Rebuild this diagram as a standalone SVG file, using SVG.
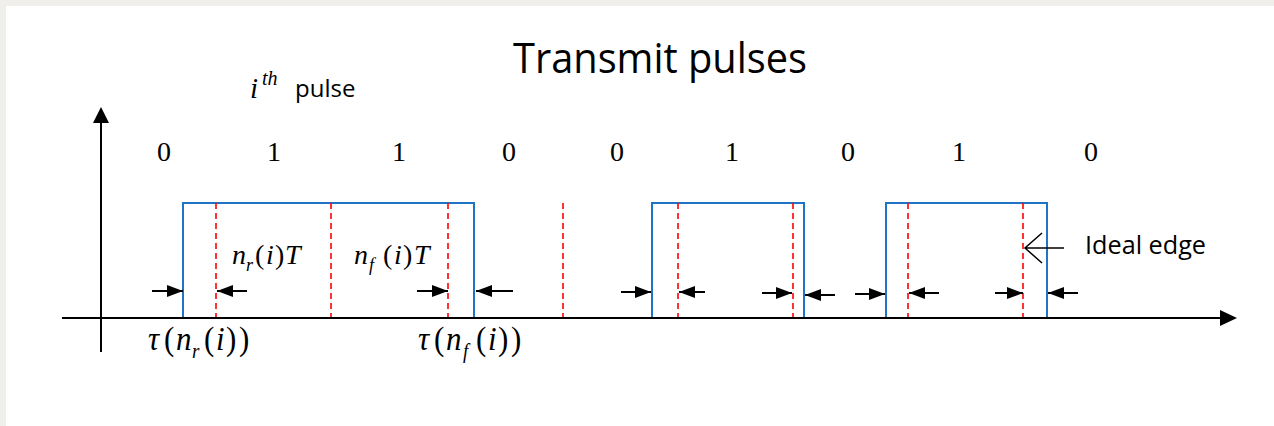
<svg xmlns="http://www.w3.org/2000/svg" width="1274" height="426" viewBox="0 0 1274 426">
<defs>
<style>
.sans{font-family:"Open Sans","Liberation Sans",sans-serif;fill:#000}
.ser{font-family:"Liberation Serif","Times New Roman",serif;fill:#000}
.it{font-style:italic}
.axis{stroke:#000;stroke-width:2;fill:none}
.pulse{stroke:#1f74c4;stroke-width:2;fill:none}
.ideal{stroke:#ff0000;stroke-width:1.6;stroke-dasharray:6 4;fill:none}
.arr{stroke:#000;stroke-width:2;fill:none;marker-end:url(#ah)}
</style>
<marker id="ah" viewBox="0 0 16 12" refX="16" refY="6" markerWidth="16" markerHeight="12" markerUnits="userSpaceOnUse" orient="auto">
<path d="M0,0 L16,6 L0,12 Z" fill="#000"/>
</marker>
</defs>
<rect x="0" y="0" width="1274" height="426" fill="#f0efeb"/>
<rect x="6" y="6" width="1268" height="420" fill="#ffffff"/>

<g id="title">
<text class="sans" x="513" y="73" font-size="42" textLength="294" lengthAdjust="spacingAndGlyphs">Transmit pulses</text>
</g>

<g id="ith-pulse">
<text class="ser it" x="250" y="98" font-size="29">i</text>
<text class="ser it" x="262" y="85" font-size="20">th</text>
<text class="sans" x="295" y="97" font-size="24">pulse</text>
</g>

<g id="bits" class="ser" font-size="28" text-anchor="middle">
<text x="164" y="161">0</text>
<text x="274" y="161">1</text>
<text x="399" y="161">1</text>
<text x="509" y="161">0</text>
<text x="617" y="161">0</text>
<text x="732" y="161">1</text>
<text x="848" y="161">0</text>
<text x="959" y="161">1</text>
<text x="1091" y="161">0</text>
</g>

<g id="pulses">
<path class="pulse" d="M183,318 V203 H474 V318"/>
<path class="pulse" d="M652,318 V203 H804 V318"/>
<path class="pulse" d="M886,318 V203 H1047 V318"/>
</g>

<g id="ideal-edges">
<line class="ideal" x1="216" y1="203" x2="216" y2="318"/>
<line class="ideal" x1="331" y1="203" x2="331" y2="318"/>
<line class="ideal" x1="448" y1="203" x2="448" y2="318"/>
<line class="ideal" x1="563" y1="203" x2="563" y2="318"/>
<line class="ideal" x1="678" y1="203" x2="678" y2="318"/>
<line class="ideal" x1="793" y1="203" x2="793" y2="318"/>
<line class="ideal" x1="908" y1="203" x2="908" y2="318"/>
<line class="ideal" x1="1023" y1="203" x2="1023" y2="318"/>
</g>

<g id="axes">
<line class="axis" x1="62" y1="318" x2="1222" y2="318"/>
<path d="M1237,318 L1220,310 L1220,326 Z" fill="#000"/>
<line class="axis" x1="101" y1="352" x2="101" y2="122"/>
<path d="M101,107 L93,123 L109,123 Z" fill="#000"/>
</g>

<g id="connectors">
<line class="arr" x1="152" y1="291" x2="183" y2="291"/>
<line class="arr" x1="247" y1="291" x2="217" y2="291"/>
<line class="arr" x1="417" y1="291" x2="448" y2="291"/>
<line class="arr" x1="513" y1="291" x2="476" y2="291"/>
<line class="arr" x1="621" y1="292" x2="651" y2="292"/>
<line class="arr" x1="705" y1="292" x2="679" y2="292"/>
<line class="arr" x1="762" y1="293" x2="792" y2="293"/>
<line class="arr" x1="835" y1="295" x2="805" y2="295"/>
<line class="arr" x1="855" y1="294" x2="885" y2="294"/>
<line class="arr" x1="939" y1="293" x2="909" y2="293"/>
<line class="arr" x1="995" y1="293" x2="1023" y2="293"/>
<line class="arr" x1="1078" y1="293" x2="1048" y2="293"/>
<path d="M1064,248 H1025 M1042,233 L1025,248 L1042,263" stroke="#000" stroke-width="1.5" fill="none"/>
</g>

<g id="label-ideal-edge">
<text class="sans" x="1085" y="254" font-size="25" textLength="121" lengthAdjust="spacingAndGlyphs">Ideal edge</text>
</g>

<g id="label-nrT" class="ser" font-size="28">
<text class="it" x="232" y="264">n</text>
<text class="it" x="246" y="271" font-size="18">r</text>
<text x="255" y="264">(</text>
<text class="it" x="266" y="264">i</text>
<text x="275" y="264">)</text>
<text class="it" x="285" y="264">T</text>
</g>

<g id="label-nfT" class="ser" font-size="28">
<text class="it" x="354" y="264">n</text>
<text class="it" x="369" y="271" font-size="18">f</text>
<text x="383" y="264">(</text>
<text class="it" x="394" y="264">i</text>
<text x="403" y="264">)</text>
<text class="it" x="414" y="264">T</text>
</g>

<g id="label-tau-nr" class="ser" font-size="31" transform="translate(0,350) scale(1,1.1) translate(0,-350)">
<text class="it" x="148" y="350">τ</text>
<text x="164" y="350">(</text>
<text class="it" x="176" y="350">n</text>
<text class="it" x="192" y="357" font-size="19">r</text>
<text x="204" y="350">(</text>
<text class="it" x="216" y="350">i</text>
<text x="226" y="350">)</text>
<text x="239" y="350">)</text>
</g>

<g id="label-tau-nf" class="ser" font-size="31" transform="translate(0,350) scale(1,1.1) translate(0,-350)">
<text class="it" x="418" y="350">τ</text>
<text x="434" y="350">(</text>
<text class="it" x="446" y="350">n</text>
<text class="it" x="463" y="357" font-size="19">f</text>
<text x="476" y="350">(</text>
<text class="it" x="488" y="350">i</text>
<text x="498" y="350">)</text>
<text x="511" y="350">)</text>
</g>
</svg>
